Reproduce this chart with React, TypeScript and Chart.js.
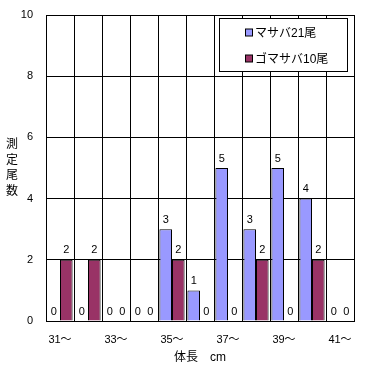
import React, { useEffect, useRef } from "react";
import { Chart, registerables } from "chart.js";

Chart.register(...registerables);

const categories = ["31〜", "32〜", "33〜", "34〜", "35〜", "36〜", "37〜", "38〜", "39〜", "40〜", "41〜"];
const masabaValues = [0, 0, 0, 0, 3, 1, 5, 3, 5, 4, 0];
const gomasabaValues = [2, 2, 0, 0, 2, 0, 0, 2, 0, 2, 0];
const seriesNames = ["マサバ21尾", "ゴマサバ10尾"];
const seriesColors = ["#9999FF", "#993366"];
const yTitleChars = ["測", "定", "尾", "数"];
const xTitle = "体長　cm";

const FONT = '"Liberation Sans", "Noto Sans CJK JP", sans-serif';

const overlayPlugin = {
  id: "overlay",
  afterDatasetsDraw(chart: any) {
    const ctx = chart.ctx;
    ctx.save();
    ctx.font = `11px ${FONT}`;
    ctx.fillStyle = "#000";
    ctx.textAlign = "center";
    ctx.textBaseline = "bottom";
    chart.data.datasets.forEach((ds: any, di: number) => {
      const meta = chart.getDatasetMeta(di);
      meta.data.forEach((bar: any, i: number) => {
        ctx.fillText(String(ds.data[i]), bar.x, bar.y - 4);
      });
    });
    // y title stacked
    const area = chart.chartArea;
    const cy = (area.top + area.bottom) / 2;
    ctx.font = `12px ${FONT}`;
    ctx.textBaseline = "middle";
    const step = 15.5;
    yTitleChars.forEach((c, i) => {
      ctx.fillText(c, 12, cy + (i - (yTitleChars.length - 1) / 2) * step);
    });
    // legend
    const lx = 219, ly = 18, lw = 128, lh = 53;
    ctx.fillStyle = "#fff";
    ctx.fillRect(lx, ly, lw, lh);
    ctx.strokeStyle = "#000";
    ctx.lineWidth = 1;
    ctx.strokeRect(lx + 0.5, ly + 0.5, lw, lh);
    ctx.font = `12px ${FONT}`;
    ctx.textAlign = "left";
    const rows = [32.5, 58.5];
    chart.data.datasets.forEach((ds: any, di: number) => {
      const y = rows[di];
      ctx.fillStyle = ds.backgroundColor;
      ctx.fillRect(245.5, y - 3.5, 7, 7);
      ctx.strokeStyle = "#000";
      ctx.strokeRect(245.5, y - 3.5, 7, 7);
      ctx.fillStyle = "#000";
      ctx.fillText(ds.label, 255, y + 1);
    });
    ctx.restore();
  },
};

export default function App() {
  const ref = useRef<HTMLCanvasElement>(null);
  useEffect(() => {
    document.body.style.margin = "0";
    const chart = new Chart(ref.current!, {
      type: "bar",
      data: {
        labels: categories,
        datasets: [
          {
            label: seriesNames[0],
            data: masabaValues,
            backgroundColor: seriesColors[0],
            borderColor: "#000",
            borderWidth: 1,
          },
          {
            label: seriesNames[1],
            data: gomasabaValues,
            backgroundColor: seriesColors[1],
            borderColor: "#000",
            borderWidth: 1,
          },
        ],
      },
      options: {
        responsive: false,
        animation: false,
        layout: { padding: { left: 0, top: 15, right: 17, bottom: 0 } },
        datasets: { bar: { categoryPercentage: 0.9, barPercentage: 1 } } as any,
        plugins: { legend: { display: false }, tooltip: { enabled: false } },
        scales: {
          x: {
            offset: true,
            grid: { color: "#000", offset: true, drawTicks: false, lineWidth: 1 },
            border: { color: "#000" },
            ticks: {
              color: "#000",
              font: { size: 11, family: FONT },
              padding: 12,
              maxRotation: 0,
              autoSkip: false,
              callback: (_v: any, i: number) => (i % 2 === 0 ? categories[i] : ""),
            },
            title: {
              display: true,
              text: xTitle,
              color: "#000",
              font: { size: 12, family: FONT },
              padding: { top: 2, bottom: 0 },
            },
            afterFit: (s: any) => {
              s.height = 44;
              s.paddingLeft = 0;
              s.paddingRight = 0;
            },
          },
          y: {
            min: 0,
            max: 10,
            grid: { color: "#000", drawTicks: false, lineWidth: 1 },
            border: { color: "#000" },
            ticks: {
              stepSize: 2,
              color: "#000",
              font: { size: 11, family: FONT },
              padding: 13,
            },
            afterFit: (s: any) => {
              s.width = 46;
              s.paddingTop = 0;
              s.paddingBottom = 0;
            },
          },
        },
      },
      plugins: [overlayPlugin],
    });
    return () => chart.destroy();
  }, []);
  return <canvas ref={ref} width={371} height={365} style={{ display: "block" }} />;
}
